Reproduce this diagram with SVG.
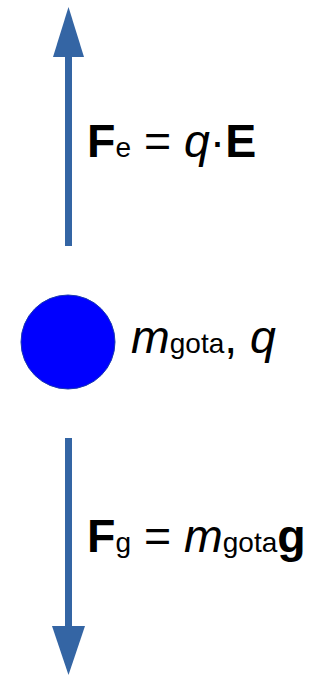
<svg xmlns="http://www.w3.org/2000/svg" width="327" height="676" viewBox="0 0 327 676">
<style>
.arrow{fill:#3465a4}
.t{font-family:"Liberation Sans",Arial,sans-serif;font-size:46.5px;fill:#000}
.b{font-weight:bold}
.i{font-style:italic}
.s{font-size:28px}
</style>
<rect width="327" height="676" fill="#fff"/>
<g id="connectors">
<g id="force-electric">
<rect class="arrow" x="65" y="55" width="7" height="191"/>
<polygon class="arrow" points="68.5,7 53,57 84,57"/>
</g>
<g id="force-gravity">
<rect class="arrow" x="65" y="438" width="7" height="190"/>
<polygon class="arrow" points="68.5,675 52,626 85,626"/>
</g>
</g>
<g id="drop">
<circle cx="68" cy="342" r="47" fill="#0000ff" stroke="#1a3ab0" stroke-width="1"/>
</g>
<g id="label-fe">
<text class="t" x="87" y="157"><tspan class="b">F</tspan><tspan class="s">e</tspan> = <tspan class="i">q</tspan>·<tspan class="b">E</tspan></text>
</g>
<g id="label-drop">
<text class="t" x="131" y="353"><tspan class="i">m</tspan><tspan class="s">gota</tspan>, <tspan class="i">q</tspan></text>
</g>
<g id="label-fg">
<text class="t" x="87" y="552"><tspan class="b">F</tspan><tspan class="s">g</tspan> = <tspan class="i">m</tspan><tspan class="s">gota</tspan><tspan class="b">g</tspan></text>
</g>
</svg>
